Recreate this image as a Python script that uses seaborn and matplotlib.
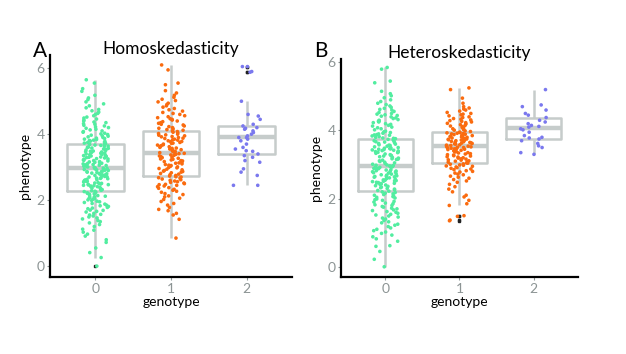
import numpy as np
import pandas as pd
import matplotlib
matplotlib.use('Agg')
import matplotlib.pyplot as plt
import seaborn as sns

# phenotype values per genotype
homo_g0 = [0.0, 0.26, 0.41, 0.55, 0.72, 0.8, 0.91, 0.97,
           1.03, 1.09, 1.12, 1.2, 1.26, 1.31, 1.35, 1.38, 1.43, 1.46, 1.49,
           1.52, 1.55, 1.57, 1.6, 1.64, 1.66, 1.69, 1.7, 1.74, 1.76, 1.78, 1.81, 1.83, 1.85, 1.88, 1.9,
           1.93, 1.95, 1.97, 1.99,
           2.01, 2.03, 2.05, 2.06, 2.09, 2.1, 2.12, 2.14, 2.15, 2.18, 2.19, 2.21, 2.22, 2.24, 2.26,
           2.27, 2.29, 2.3, 2.32, 2.34, 2.35, 2.37, 2.38, 2.4, 2.41, 2.43, 2.44, 2.45, 2.46, 2.47,
           2.48, 2.49, 2.5,
           2.51, 2.52, 2.53, 2.55, 2.56, 2.57, 2.58, 2.6, 2.61, 2.62, 2.63, 2.65, 2.66, 2.67, 2.68,
           2.7, 2.71, 2.72, 2.74, 2.75, 2.76, 2.77, 2.79, 2.8, 2.81, 2.82, 2.84, 2.85, 2.86, 2.87,
           2.89, 2.9, 2.91, 2.92, 2.93, 2.95, 2.96, 2.97, 2.98, 2.99,
           3.01, 3.02, 3.03, 3.05, 3.06, 3.07, 3.08, 3.1, 3.11, 3.12, 3.14, 3.15, 3.16, 3.17, 3.19,
           3.2, 3.21, 3.22, 3.24, 3.25, 3.26, 3.28, 3.29, 3.3, 3.31, 3.33, 3.34, 3.35, 3.36, 3.38,
           3.39, 3.4, 3.42, 3.43, 3.44, 3.45, 3.46, 3.47, 3.48, 3.49,
           3.51, 3.52, 3.54, 3.55, 3.57, 3.58, 3.6, 3.61, 3.63, 3.64, 3.66, 3.67, 3.69, 3.7, 3.72,
           3.73, 3.75, 3.76, 3.78, 3.79, 3.81, 3.82, 3.84, 3.85, 3.87, 3.88, 3.9, 3.92, 3.94, 3.95,
           3.97, 3.99,
           4.01, 4.03, 4.06, 4.08, 4.1, 4.13, 4.15, 4.18, 4.2, 4.22, 4.25, 4.27, 4.3, 4.32, 4.35,
           4.37, 4.4, 4.43, 4.46, 4.49,
           4.52, 4.56, 4.6, 4.63, 4.67, 4.71, 4.75, 4.8, 4.86, 4.92, 4.98,
           5.05, 5.1, 5.18, 5.3, 5.38, 5.55, 5.65]
homo_g1 = [0.85, 1.42,
           1.55, 1.6, 1.68, 1.72, 1.78, 1.85, 1.9, 1.96,
           2.02, 2.06, 2.1, 2.13, 2.17, 2.2, 2.24, 2.27, 2.3, 2.33, 2.36, 2.38, 2.41, 2.43, 2.45,
           2.47, 2.48, 2.5,
           2.52, 2.54, 2.56, 2.58, 2.6, 2.62, 2.64, 2.66, 2.68, 2.7, 2.71, 2.73, 2.75, 2.77, 2.79,
           2.81, 2.83, 2.85, 2.87, 2.88, 2.9, 2.92, 2.94, 2.96, 2.98, 2.99,
           3.01, 3.03, 3.05, 3.06, 3.08, 3.1, 3.12, 3.13, 3.15, 3.17, 3.19, 3.2, 3.22, 3.24, 3.25,
           3.27, 3.29, 3.3, 3.32, 3.34, 3.36, 3.37, 3.39, 3.41, 3.42, 3.44, 3.45, 3.47, 3.48, 3.5,
           3.52, 3.53, 3.55, 3.57, 3.58, 3.6, 3.62, 3.63, 3.65, 3.67, 3.68, 3.7, 3.72, 3.73, 3.75,
           3.77, 3.78, 3.8, 3.82, 3.83, 3.85, 3.87, 3.88, 3.9, 3.92, 3.93, 3.95, 3.97, 3.98, 4.0,
           4.02, 4.04, 4.06, 4.08, 4.1, 4.12, 4.14, 4.16, 4.18, 4.2, 4.23, 4.25, 4.28, 4.3, 4.33,
           4.35, 4.38, 4.4, 4.43, 4.45, 4.47, 4.5,
           4.53, 4.56, 4.6, 4.63, 4.66, 4.7, 4.74, 4.78, 4.82, 4.86, 4.9, 4.94, 4.98,
           5.02, 5.06, 5.12, 5.18, 5.25, 5.32, 5.5, 5.55, 5.95, 6.1]
homo_g2 = [2.45, 2.45, 2.75, 2.85, 2.95, 3.15, 3.2, 3.3, 3.35, 3.4, 3.48, 3.5, 3.55, 3.6,
           3.7, 3.8, 3.85, 3.9, 3.9, 3.95, 4.0, 4.05, 4.1, 4.15, 4.18, 4.2, 4.25, 4.3, 4.45,
           4.55, 4.6, 5.0, 5.88, 5.9, 6.05, 6.05]

hetero_g0 = [0.0, 0.22, 0.45, 0.6, 0.62, 0.75, 0.82, 0.88, 0.93, 0.98,
             1.02, 1.06, 1.1, 1.14, 1.18, 1.22, 1.25, 1.29, 1.32, 1.36, 1.4, 1.43, 1.46, 1.49,
             1.52, 1.54, 1.57, 1.6, 1.62, 1.65, 1.67, 1.7, 1.72, 1.75, 1.77, 1.8, 1.82, 1.85,
             1.87, 1.9, 1.92, 1.95, 1.97, 1.99,
             2.02, 2.04, 2.06, 2.08, 2.1, 2.12, 2.14, 2.16, 2.18, 2.2, 2.22, 2.24, 2.26, 2.28,
             2.3, 2.32, 2.34, 2.36, 2.38, 2.4, 2.42, 2.43, 2.44, 2.45, 2.46, 2.47, 2.48, 2.5,
             2.51, 2.52, 2.53, 2.54, 2.55, 2.57, 2.58, 2.6, 2.61, 2.63, 2.64, 2.65, 2.66, 2.67,
             2.69, 2.7, 2.72, 2.73, 2.75, 2.76, 2.78, 2.79, 2.8, 2.81, 2.82, 2.84, 2.85, 2.86,
             2.88, 2.89, 2.9, 2.91, 2.92, 2.93, 2.94, 2.95, 2.96, 2.97, 2.98, 2.99,
             3.01, 3.03, 3.05, 3.07, 3.09, 3.11, 3.13, 3.15, 3.16, 3.17, 3.19, 3.21, 3.23, 3.25,
             3.26, 3.27, 3.29, 3.31, 3.33, 3.35, 3.36, 3.37, 3.38, 3.4, 3.41, 3.42, 3.43, 3.44,
             3.45, 3.46, 3.47, 3.48, 3.49, 3.5,
             3.52, 3.54, 3.56, 3.57, 3.58, 3.6, 3.62, 3.64, 3.66, 3.67, 3.68, 3.7, 3.72, 3.74,
             3.76, 3.77, 3.78, 3.8, 3.82, 3.84, 3.86, 3.87, 3.88, 3.9, 3.92, 3.94, 3.96, 3.98,
             4.02, 4.05, 4.08, 4.1, 4.13, 4.15, 4.18, 4.2, 4.23, 4.25, 4.27, 4.28, 4.3, 4.32,
             4.35, 4.37, 4.4, 4.42, 4.44, 4.46, 4.48, 4.5,
             4.53, 4.56, 4.6, 4.62, 4.65, 4.68, 4.72, 4.76, 4.8, 4.85, 4.9, 4.96,
             5.02, 5.08, 5.15, 5.4, 5.45, 5.8, 5.85]
hetero_g1 = [1.35, 1.37, 1.48, 1.5,
             1.8, 1.85, 1.95, 2.05, 2.1, 2.2, 2.28, 2.35, 2.42, 2.48,
             2.52, 2.56, 2.6, 2.63, 2.66, 2.7, 2.72, 2.75, 2.78, 2.8, 2.82, 2.85, 2.87, 2.89,
             2.91, 2.93, 2.95, 2.96, 2.98, 2.99,
             3.01, 3.02, 3.04, 3.05, 3.07, 3.08, 3.1, 3.11, 3.13, 3.14, 3.16, 3.17, 3.19, 3.2,
             3.22, 3.23, 3.25, 3.26, 3.28, 3.29, 3.31, 3.32, 3.34, 3.35, 3.37, 3.38, 3.4, 3.41,
             3.42, 3.43, 3.44, 3.45, 3.46, 3.47, 3.48, 3.49,
             3.5, 3.51, 3.52, 3.53, 3.54, 3.55, 3.56, 3.57, 3.58, 3.6, 3.61, 3.62, 3.63, 3.64,
             3.65, 3.66, 3.67, 3.68, 3.7, 3.71, 3.72, 3.73, 3.74, 3.75, 3.76, 3.77, 3.78, 3.8,
             3.81, 3.82, 3.83, 3.84, 3.85, 3.86, 3.88, 3.89, 3.9, 3.91, 3.92, 3.93, 3.94, 3.95,
             3.97, 3.99,
             4.01, 4.03, 4.05, 4.07, 4.09, 4.11, 4.13, 4.15, 4.17, 4.19, 4.21, 4.23, 4.25, 4.27,
             4.29, 4.31, 4.33, 4.35, 4.38, 4.4, 4.43, 4.46, 4.48, 4.5,
             4.53, 4.57, 4.6, 4.63, 4.66, 4.7, 4.8, 4.95, 5.2, 5.25]
hetero_g2 = [3.3, 3.35, 3.5, 3.55, 3.62, 3.7, 3.75, 3.78, 3.8, 3.85, 3.95, 4.02, 4.05, 4.1,
             4.12, 4.15, 4.2, 4.25, 4.3, 4.38, 4.45, 4.5, 4.6, 4.7, 4.75, 5.2]

genotypes = ['0', '1', '2']
point_colors = ['#52eda0', '#fa6b0f', '#7a78ee']
box_grey = '#c6cccb'
tick_grey = '#8c9494'

panels = [
    ('A', 'Homoskedasticity', [homo_g0, homo_g1, homo_g2]),
    ('B', 'Heteroskedasticity', [hetero_g0, hetero_g1, hetero_g2]),
]

sns.set_style('white')
plt.rcParams['font.family'] = ['Lato', 'DejaVu Sans']
plt.rcParams['text.color'] = 'black'
plt.rcParams['axes.labelcolor'] = 'black'

fig = plt.figure(figsize=(6.26, 3.54), dpi=100)
axes_pos = [[0.08, 0.2175, 0.3866, 0.627], [0.5447, 0.2175, 0.3786, 0.616]]
letter_x = [0.052, 0.502]
ylims = [(-0.33, 6.4), (-0.3, 6.1)]
np.random.seed(3)

for (letter, title, groups), pos, ylim, lx in zip(panels, axes_pos, ylims, letter_x):
    ax = fig.add_axes(pos)
    df = pd.DataFrame({
        'genotype': np.concatenate([[g] * len(v) for g, v in zip(genotypes, groups)]),
        'phenotype': np.concatenate(groups),
    })
    sns.boxplot(data=df, x='genotype', y='phenotype', order=genotypes, ax=ax,
                fill=False, color=box_grey, width=0.75, linewidth=1.8,
                showcaps=False,
                medianprops={'color': box_grey, 'linewidth': 3.2},
                flierprops={'marker': 's', 'markersize': 1.8,
                            'markerfacecolor': '#222222', 'markeredgecolor': '#222222'})
    sns.stripplot(data=df, x='genotype', y='phenotype', order=genotypes, hue='genotype',
                  hue_order=genotypes, palette=point_colors, legend=False, ax=ax,
                  jitter=0.18, size=2.6, linewidth=0, zorder=3)
    ax.set_xlim(-0.6, 2.6)
    ax.set_ylim(*ylim)
    ax.set_yticks([0, 2, 4, 6])
    ax.set_title(title, fontsize=12.5, pad=1, color='black')
    ax.set_xlabel('genotype', fontsize=10, labelpad=1)
    ax.set_ylabel('phenotype', fontsize=10, labelpad=4)
    for side in ['top', 'right']:
        ax.spines[side].set_visible(False)
    for side in ['left', 'bottom']:
        ax.spines[side].set_linewidth(1.6)
        ax.spines[side].set_color('black')
    ax.tick_params(axis='both', colors=tick_grey, labelsize=10, length=2, width=0.8,
                   left=True, bottom=True, pad=2)
    fig.text(lx, 0.838, letter, fontsize=15, va='baseline', ha='left', color='black')

fig.savefig('out.png', dpi=100)
